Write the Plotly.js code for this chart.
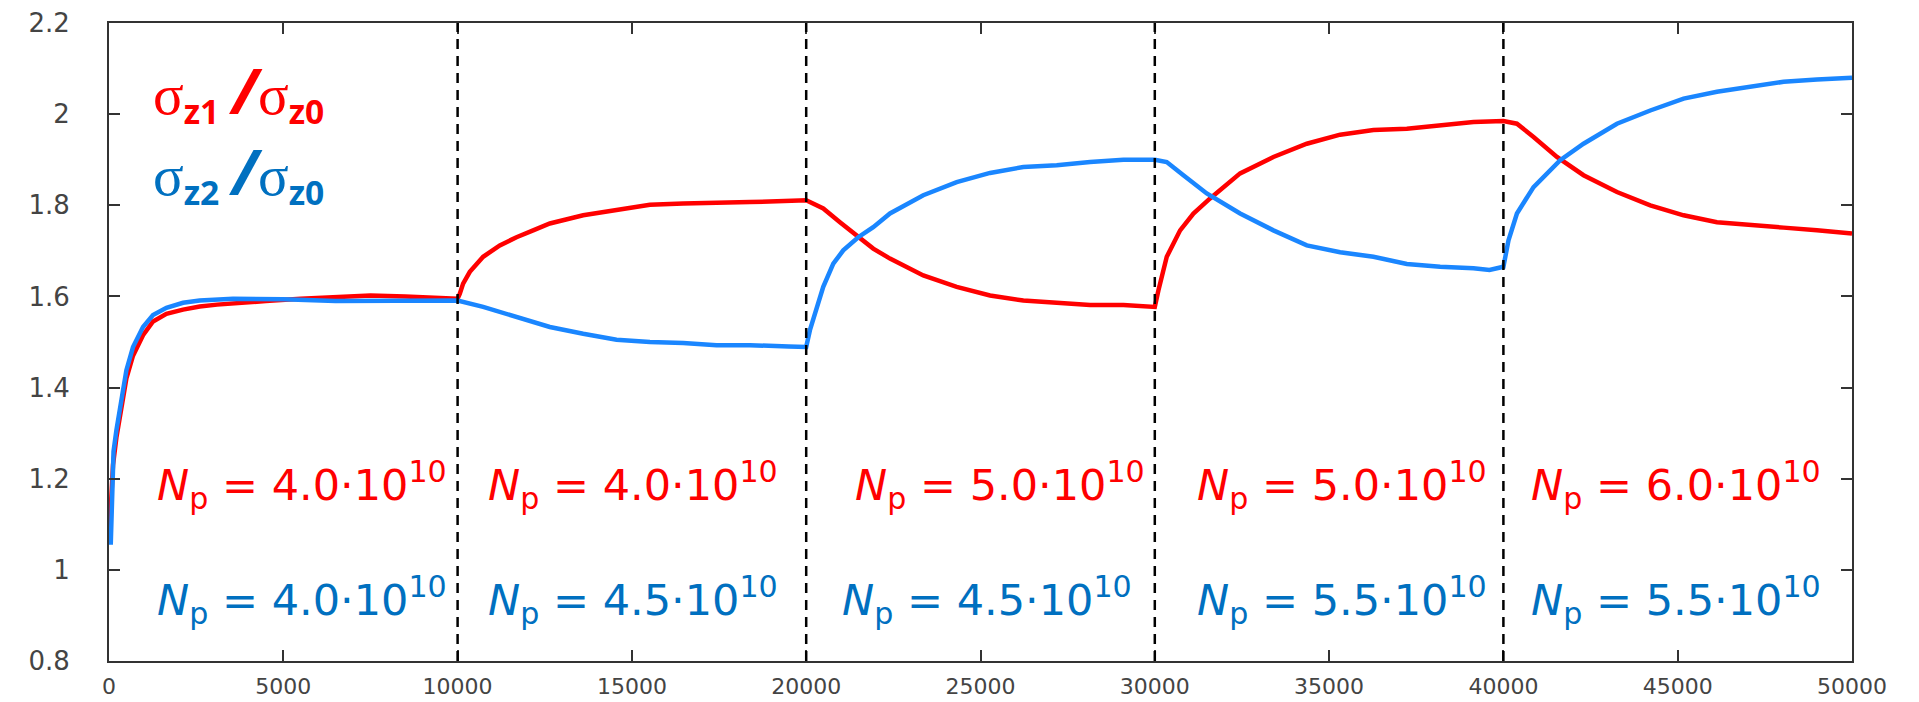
<!DOCTYPE html>
<html>
<head>
<meta charset="utf-8">
<script src="https://cdn.plot.ly/plotly-3.0.1.min.js"></script>
<style>html,body{margin:0;padding:0;background:#fff;}#chart{width:1919px;height:702px;}</style>
</head>
<body>
<div id="chart"></div>
<script>
// ---- data ----
const redTurns = [0,40,69,115,212,402,499,689,976,1263,1647,2124,2603,3100,3558,4500,5500,6500,7500,8500,9300,10000,
  10064,10158,10350,10733,11211,11690,12167,12646,13602,14560,15516,16472,17430,18386,20000,
  20489,20968,21493,21923,22403,23359,24317,25273,26229,27187,28143,29100,30000,
  30103,30343,30726,31108,31586,32447,33402,34360,35316,36272,37230,38186,39142,40000,
  40388,40865,41536,42299,43257,44213,45169,46126,47082,48038,48995,50000];
const redRatio = [1.06,1.12,1.18,1.23,1.29,1.38,1.42,1.47,1.515,1.545,1.562,1.571,1.578,1.582,1.585,1.59,1.595,1.598,1.602,1.600,1.598,1.595,
  1.606,1.628,1.654,1.687,1.712,1.730,1.745,1.760,1.778,1.790,1.801,1.804,1.805,1.807,1.811,
  1.793,1.763,1.730,1.705,1.683,1.646,1.621,1.602,1.591,1.586,1.581,1.581,1.577,
  1.613,1.687,1.745,1.782,1.815,1.870,1.906,1.935,1.955,1.965,1.968,1.976,1.983,1.985,
  1.979,1.950,1.906,1.866,1.829,1.800,1.778,1.763,1.758,1.751,1.745,1.738];

const blueTurns = [50,100,130,212,402,499,689,976,1263,1647,2124,2603,3558,5000,6500,8000,9000,10000,
  10733,11690,12646,13602,14560,15516,16472,17430,18386,19500,20000,
  20107,20299,20489,20777,21063,21493,21923,22403,23359,24317,25273,26229,27187,28143,29100,30000,
  30343,30820,31491,32447,33402,34360,35316,36272,37230,38186,39142,39600,40000,
  40146,40388,40865,41343,41630,42299,43257,44213,45169,46126,47082,48038,48995,50000];
const blueRatio = [1.055,1.20,1.26,1.306,1.394,1.438,1.489,1.533,1.559,1.575,1.586,1.591,1.595,1.594,1.590,1.591,1.592,1.591,
  1.577,1.555,1.533,1.518,1.505,1.500,1.498,1.493,1.493,1.490,1.489,
  1.526,1.577,1.621,1.672,1.701,1.730,1.752,1.782,1.822,1.851,1.871,1.884,1.888,1.895,1.900,1.900,
  1.895,1.866,1.826,1.782,1.745,1.712,1.697,1.687,1.671,1.665,1.662,1.658,1.665,
  1.723,1.782,1.840,1.877,1.899,1.935,1.979,2.008,2.034,2.049,2.061,2.071,2.076,2.080];

const dividers = [10000,20000,30000,40000];
const xTickVals = [0,5000,10000,15000,20000,25000,30000,35000,40000,45000,50000];
const xTickText = ['0','5000','10000','15000','20000','25000','30000','35000','40000','45000','50000'];
const yTickVals = [0.8,1.0,1.2,1.4,1.6,1.8,2.0,2.2];
const yTickText = ['0.8','1','1.2','1.4','1.6','1.8','2','2.2'];

const npRed  = ['4.0','4.0','5.0','5.0','6.0'];
const npBlue = ['4.0','4.5','4.5','5.5','5.5'];
const npRedX  = [1311,10810,21347,31155,40740];
const npBlueX = [1311,10810,20973,31155,40740];

// ---- styling ----
const RED = '#ff0000', BLUE_LINE = '#1a86ff', BLUE_TEXT = '#0070c0';
const npFont = 'DejaVu Sans';

const traces = [
  {x: redTurns, y: redRatio, type:'scatter', mode:'lines', line:{color:RED, width:4.5}, hoverinfo:'skip'},
  {x: blueTurns, y: blueRatio, type:'scatter', mode:'lines', line:{color:BLUE_LINE, width:4.5}, hoverinfo:'skip'}
];

const shapes = dividers.map(d => ({type:'line', xref:'x', yref:'paper', x0:d, x1:d, y0:0, y1:1,
  line:{color:'#000', width:2.5, dash:'10px,7px'}}));

function npText(v){ return '<i>N</i><sub>p</sub> = ' + v + '·10<sup>10</sup>'; }
function sigText(k){
  return '<span style="font-family:Liberation Serif;font-size:57px">σ</span><sub><b>z' + k + '</b></sub>&nbsp;' +
         '<span style="font-size:62px"><b><i>/</i></b></span><span style="font-family:Liberation Serif;font-size:57px">σ</span><sub><b>z0</b></sub>';
}

const annotations = [];
npRed.forEach((v,i) => annotations.push({xref:'x', yref:'y', x:npRedX[i], y:1.1855, xanchor:'left', yanchor:'middle',
  showarrow:false, text:npText(v), font:{family:npFont, size:43, color:RED}}));
npBlue.forEach((v,i) => annotations.push({xref:'x', yref:'y', x:npBlueX[i], y:0.933, xanchor:'left', yanchor:'middle',
  showarrow:false, text:npText(v), font:{family:npFont, size:43, color:BLUE_TEXT}}));
annotations.push({xref:'x', yref:'y', x:1200, y:2.05, xanchor:'left', yanchor:'middle', showarrow:false,
  text:sigText(1), font:{family:'Open Sans', size:48, color:RED}});
annotations.push({xref:'x', yref:'y', x:1200, y:1.873, xanchor:'left', yanchor:'middle', showarrow:false,
  text:sigText(2), font:{family:'Open Sans', size:48, color:BLUE_TEXT}});

const axisCommon = {showline:true, linecolor:'#333', linewidth:2, mirror:'ticks', ticks:'inside', ticklen:11,
  tickwidth:2, tickcolor:'#333', showgrid:false, zeroline:false};

const layout = {
  width:1919, height:702, paper_bgcolor:'#fff', plot_bgcolor:'#fff', showlegend:false,
  margin:{l:109, r:67, t:23, b:41},
  xaxis: Object.assign({}, axisCommon, {range:[0,50000], tickmode:'array', tickvals:xTickVals, ticktext:xTickText,
    ticklabelstandoff:5, tickfont:{family:'DejaVu Sans', size:22, color:'#444'}}),
  yaxis: Object.assign({}, axisCommon, {range:[0.8,2.2], tickmode:'array', tickvals:yTickVals, ticktext:yTickText,
    ticklabelstandoff:32, tickfont:{family:'DejaVu Sans', size:26, color:'#444'}}),
  shapes: shapes, annotations: annotations
};

Plotly.newPlot('chart', traces, layout, {staticPlot:true});
</script>
</body>
</html>
